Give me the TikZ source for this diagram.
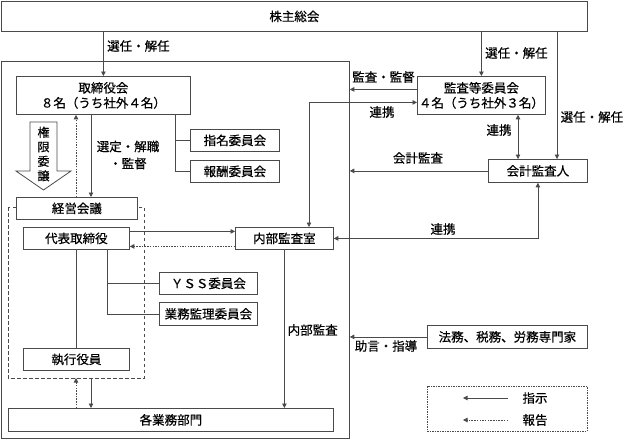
\documentclass[tikz,border=0pt]{standalone}
\usepackage{fontspec}
\setmainfont{Noto Sans CJK JP}[FakeBold=0.5]
\usetikzlibrary{arrows.meta}
\definecolor{ln}{HTML}{4A4A4A}
\tikzset{
  box/.style={draw=ln, fill=white, line width=0.8pt, anchor=north west, inner sep=0pt, align=center, font=\fontsize{12.5}{15}\selectfont},
  lab/.style={inner sep=0pt, font=\fontsize{12.5}{15}\selectfont},
  con/.style={draw=ln, line width=0.8pt},
  arr/.style={con, -{Triangle[length=4.5pt,width=4.5pt]}},
  darr/.style={con, {Triangle[length=4.5pt,width=4.5pt]}-{Triangle[length=4.5pt,width=4.5pt]}},
  rep/.style={con, dash pattern=on 1.5pt off 1.2pt, -{Triangle[length=4.5pt,width=4.5pt]}},
}
\begin{document}
\begin{tikzpicture}[x=1pt,y=-1pt]
\useasboundingbox (0,0) rectangle (624,439);
% frames
\node[box, minimum width=586pt, minimum height=30pt] (soukai) at (1,1) {株主総会};
\node[draw=ln, line width=0.8pt, anchor=north west, inner sep=0pt, minimum width=348pt, minimum height=377pt] (company) at (1,61) {};
\draw[ln, line width=0.8pt, dash pattern=on 3.5pt off 2.5pt] (8,207) rectangle (144,378);
\coordinate (grpS) at (76,378);
% boxes
\node[box, minimum width=174pt, minimum height=38pt] (tori) at (16,76) {取締役会\\８名（うち社外４名）};
\node[box, minimum width=89pt, minimum height=22pt] (shimei) at (190,129) {指名委員会};
\node[box, minimum width=89pt, minimum height=22pt] (hoshu) at (190,160) {報酬委員会};
\node[box, minimum width=121pt, minimum height=22pt] (keiei) at (16,197) {経営会議};
\node[box, minimum width=106pt, minimum height=22pt] (daihyo) at (23,227) {代表取締役};
\node[box, minimum width=98pt, minimum height=22pt] (naibu) at (235,227) {内部監査室};
\node[box, minimum width=98pt, minimum height=22pt] (yss) at (159,272) {ＹＳＳ委員会};
\node[box, minimum width=98pt, minimum height=23pt] (gyomu) at (159,302) {業務監理委員会};
\node[box, minimum width=106pt, minimum height=22pt] (shikko) at (23,348) {執行役員};
\node[box, minimum width=325pt, minimum height=23pt] (bumon) at (8,408) {各業務部門};
\node[box, minimum width=128pt, minimum height=38pt] (kansa) at (417,76) {監査等委員会\\４名（うち社外３名）};
\node[box, minimum width=99pt, minimum height=23pt] (kaikei) at (488,159) {会計監査人};
\node[box, minimum width=160pt, minimum height=23pt] (senmon) at (427,325) {法務、税務、労務専門家};
% hollow arrow
\draw[ln, line width=0.8pt, fill=white] (30,122) -- (57,122) -- (57,171) -- (71,171) -- (43.5,190) -- (16,171) -- (30,171) -- cycle;
\node[lab, align=center, font=\fontsize{12}{14.5}\selectfont] (kengen) at (43.5,154) {権\\限\\委\\譲};
% connectors left
\draw[arr] (soukai.south -| tori.north) -- (tori.north);
\node[lab, anchor=west] (l1) at (107,46) {選任・解任};
\coordinate (xa) at (91,0);
\coordinate (xb) at (76,0);
\draw[arr] (tori.south -| xa) -- (keiei.north -| xa);
\draw[rep] (keiei.north -| xb) -- (tori.south -| xb);
\node[lab, align=center, font=\fontsize{12.5}{17}\selectfont] (l2) at (128,155) {選定・解職\\・監督};
\coordinate (xc) at (175,0);
\draw[con] (tori.south -| xc) |- (shimei.west);
\draw[con] (tori.south -| xc) |- (hoshu.west);
\draw[arr] ([yshift=7pt]daihyo.east) -- ([yshift=7pt]daihyo.east -| naibu.west);
\draw[rep] ([yshift=-8pt]naibu.west) -- ([yshift=-8pt]naibu.west -| daihyo.east);
\draw[con] (daihyo.south) -- (shikko.north);
\coordinate (xd) at (107,0);
\draw[con] (daihyo.south -| xd) |- (yss.west);
\draw[con] (daihyo.south -| xd) |- (gyomu.west);
\draw[rep] (bumon.north -| grpS) -- (grpS);
\draw[arr] (grpS -| xa) -- (bumon.north -| xa);
\draw[arr] (naibu.south) -- (bumon.north -| naibu.south);
\node[lab, anchor=west] (l3) at (287.5,330) {内部監査};
% right side
\coordinate (xe) at (309,0);
\coordinate (k2) at ([yshift=-7pt]kansa.west);
\draw[darr] (naibu.north -| xe) |- (k2);
\node[lab] (l4) at (382,112) {連携};
\coordinate (k1) at ([yshift=6pt]kansa.west);
\draw[arr] (k1) -- (k1 -| company.east);
\node[lab] (l5) at (383.5,77) {監査・監督};
\draw[arr] (soukai.south -| kansa.north) -- (kansa.north);
\node[lab, anchor=west] (l6) at (485,53) {選任・解任};
\coordinate (xf) at (557,0);
\draw[arr] (soukai.south -| xf) -- (kaikei.north -| xf);
\node[lab, anchor=west] (l7) at (560.5,117) {選任・解任};
\coordinate (xg) at (518,0);
\draw[darr] (kansa.south -| xg) -- (kaikei.north -| xg);
\node[lab] (l8) at (499,130) {連携};
\draw[arr] (kaikei.west) -- (kaikei.west -| company.east);
\node[lab] (l9) at (418,158) {会計監査};
\draw[darr] (kaikei.south) |- (naibu.east);
\node[lab] (l10) at (443,229) {連携};
\draw[arr] (senmon.west) -- (senmon.west -| company.east);
\node[lab] (l11) at (386,346) {助言・指導};
% legend
\node[draw=ln, line width=0.8pt, dash pattern=on 1.5pt off 1pt, anchor=north west, inner sep=0pt, minimum width=160pt, minimum height=45pt] (legend) at (427,386) {};
\coordinate (g1a) at (508,398);
\coordinate (g1b) at (463,398);
\coordinate (g2a) at (508,420);
\coordinate (g2b) at (463,420);
\draw[arr] (g1a) -- (g1b);
\draw[rep] (g2a) -- (g2b);
\node[lab] (l12) at (535,398) {指示};
\node[lab] (l13) at (535,420) {報告};
\end{tikzpicture}
\end{document}
